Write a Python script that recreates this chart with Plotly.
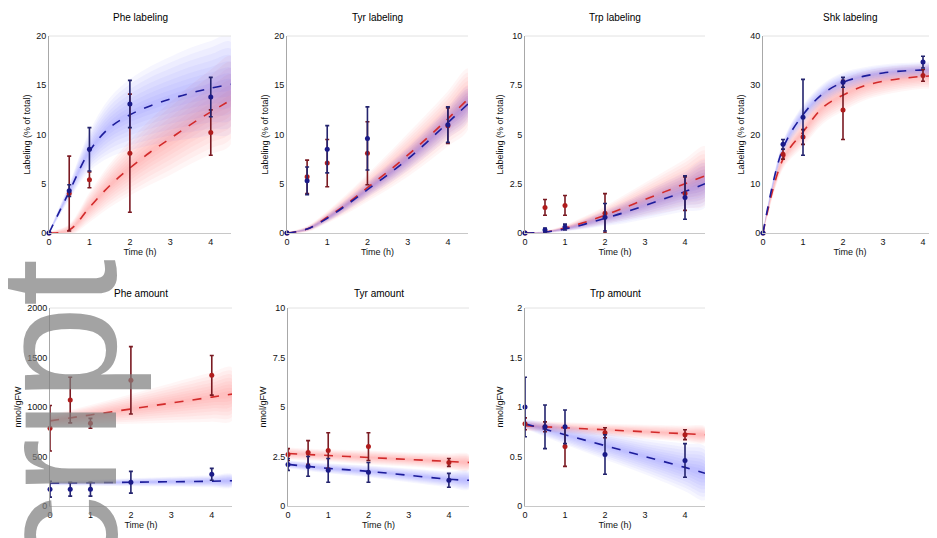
import plotly.graph_objects as go

# The page body has an 8px margin, so the figure is sized/positioned to compensate.
OFF = 8
W, H = 937 - OFF, 538 - OFF

# ---------------- data ----------------
T_OBS = [0, 0.5, 1, 2, 4]
T_FIT = [0, 0.5, 1, 1.5, 2, 2.5, 3, 3.5, 4, 4.5]
T_FIT_AMT = [0, 1, 2, 3, 4, 4.5]

# Phe labeling (%)
PHE_LAB_RED = [0, 4.0, 5.4, 8.1, 10.2]
PHE_LAB_RED_ERR = [0, 3.8, 0.8, 6.0, 2.3]
PHE_LAB_BLUE = [0, 4.3, 8.5, 13.1, 13.8]
PHE_LAB_BLUE_ERR = [0, 0.6, 2.2, 2.4, 2.0]
PHE_LAB_RED_FIT = [0, 0.3, 2.6, 4.8, 6.6, 8.2, 9.6, 11.0, 12.3, 13.5]
PHE_LAB_RED_BAND = [0, 0.6, 1.5, 2.2, 2.8, 3.3, 3.7, 4.0, 4.3, 4.5]
PHE_LAB_BLUE_FIT = [0, 4.2, 8.3, 10.7, 12.0, 12.9, 13.6, 14.2, 14.7, 15.1]
PHE_LAB_BLUE_BAND = [0, 0.8, 2.0, 3.0, 3.6, 4.0, 4.3, 4.6, 4.8, 5.0]

# Tyr labeling (%)
TYR_LAB_RED = [0, 5.7, 7.1, 8.1, 10.9]
TYR_LAB_RED_ERR = [0, 1.7, 2.4, 3.2, 1.8]
TYR_LAB_BLUE = [0, 5.3, 8.5, 9.6, 11.0]
TYR_LAB_BLUE_ERR = [0, 1.4, 2.4, 3.2, 1.8]
TYR_LAB_RED_FIT = [0, 0.4, 1.6, 3.0, 4.6, 6.2, 7.9, 9.7, 11.6, 13.6]
TYR_LAB_RED_BAND = [0, 0.3, 0.6, 1.0, 1.4, 1.8, 2.2, 2.5, 2.8, 3.1]
TYR_LAB_BLUE_FIT = [0, 0.4, 1.5, 2.9, 4.4, 5.9, 7.5, 9.3, 11.2, 13.1]
TYR_LAB_BLUE_BAND = [0, 0.2, 0.4, 0.6, 0.8, 1.0, 1.2, 1.4, 1.6, 1.8]

# Trp labeling (%)
TRP_LAB_RED = [0, 1.3, 1.4, 1.0, 2.0]
TRP_LAB_RED_ERR = [0, 0.4, 0.5, 1.0, 0.85]
TRP_LAB_BLUE = [0, 0.15, 0.3, 0.8, 1.8]
TRP_LAB_BLUE_ERR = [0, 0.1, 0.15, 0.7, 1.1]
TRP_LAB_RED_FIT = [0, 0.05, 0.25, 0.55, 0.9, 1.3, 1.7, 2.1, 2.5, 2.9]
TRP_LAB_RED_BAND = [0, 0.05, 0.15, 0.3, 0.45, 0.65, 0.85, 1.05, 1.25, 1.5]
TRP_LAB_BLUE_FIT = [0, 0.05, 0.2, 0.45, 0.75, 1.05, 1.4, 1.75, 2.1, 2.5]
TRP_LAB_BLUE_BAND = [0, 0.05, 0.12, 0.25, 0.4, 0.55, 0.7, 0.85, 1.0, 1.2]

# Shk labeling (%)
SHK_LAB_RED = [0, 16.0, 19.5, 25.0, 32.0]
SHK_LAB_RED_ERR = [0, 1.0, 1.5, 6.0, 1.2]
SHK_LAB_BLUE = [0, 18.0, 23.5, 30.6, 34.7]
SHK_LAB_BLUE_ERR = [0, 1.0, 7.7, 1.0, 1.2]
SHK_LAB_RED_FIT = [0, 15.0, 20.5, 25.5, 28.0, 29.8, 30.8, 31.4, 31.8, 32.0]
SHK_LAB_RED_BAND = [0, 2.0, 3.0, 3.3, 3.3, 3.0, 2.8, 2.6, 2.5, 2.5]
SHK_LAB_BLUE_FIT = [0, 17.2, 24.0, 28.3, 30.6, 31.8, 32.5, 32.9, 33.1, 33.2]
SHK_LAB_BLUE_BAND = [0, 1.5, 2.0, 2.0, 2.0, 1.8, 1.7, 1.6, 1.6, 1.6]

# Phe amount (nmol/gFW)
PHE_AMT_RED = [785, 1070, 835, 1270, 1320]
PHE_AMT_RED_ERR = [230, 230, 50, 340, 200]
PHE_AMT_BLUE = [170, 170, 170, 240, 320]
PHE_AMT_BLUE_ERR = [80, 70, 70, 110, 60]
PHE_AMT_RED_FIT = [860, 920, 980, 1040, 1100, 1130]
PHE_AMT_RED_BAND = [60, 100, 150, 200, 250, 270]
PHE_AMT_BLUE_FIT = [230, 235, 240, 245, 250, 255]
PHE_AMT_BLUE_BAND = [20, 30, 40, 50, 60, 65]

# Tyr amount (nmol/gFW)
TYR_AMT_RED = [2.6, 2.7, 2.8, 3.0, 2.2]
TYR_AMT_RED_ERR = [0.3, 0.6, 0.9, 0.7, 0.2]
TYR_AMT_BLUE = [2.1, 2.0, 1.8, 1.7, 1.3]
TYR_AMT_BLUE_ERR = [0.3, 0.5, 0.6, 0.5, 0.35]
TYR_AMT_RED_FIT = [2.65, 2.55, 2.45, 2.35, 2.25, 2.2]
TYR_AMT_RED_BAND = [0.3, 0.3, 0.35, 0.35, 0.4, 0.4]
TYR_AMT_BLUE_FIT = [2.1, 1.9, 1.75, 1.55, 1.35, 1.3]
TYR_AMT_BLUE_BAND = [0.2, 0.25, 0.3, 0.35, 0.4, 0.45]

# Trp amount (nmol/gFW)
TRP_AMT_RED = [0.83, 0.8, 0.6, 0.74, 0.72]
TRP_AMT_RED_ERR = [0.06, 0.05, 0.2, 0.05, 0.05]
TRP_AMT_BLUE = [1.0, 0.8, 0.8, 0.52, 0.46]
TRP_AMT_BLUE_ERR = [0.3, 0.22, 0.17, 0.2, 0.17]
TRP_AMT_RED_FIT = [0.81, 0.79, 0.77, 0.75, 0.73, 0.72]
TRP_AMT_RED_BAND = [0.05, 0.055, 0.06, 0.07, 0.08, 0.08]
TRP_AMT_BLUE_FIT = [0.83, 0.72, 0.61, 0.5, 0.39, 0.33]
TRP_AMT_BLUE_BAND = [0.05, 0.1, 0.14, 0.18, 0.24, 0.27]

TITLES = ["Phe labeling", "Tyr labeling", "Trp labeling", "Shk labeling",
          "Phe amount", "Tyr amount", "Trp amount"]
Y_TITLE_LAB = "Labeling (% of total)"
Y_TITLE_AMT = "nmol/gFW"
X_TITLE = "Time (h)"
X_TICKS = [0, 1, 2, 3, 4]
Y_TICKS = [
    [0, 5, 10, 15, 20],
    [0, 5, 10, 15, 20],
    [0, 2.5, 5, 7.5, 10],
    [0, 10, 20, 30, 40],
    [0, 500, 1000, 1500, 2000],
    [0, 2.5, 5, 7.5, 10],
    [0, 0.5, 1, 1.5, 2],
]

PANELS = [
    (T_FIT, PHE_LAB_RED, PHE_LAB_RED_ERR, PHE_LAB_BLUE, PHE_LAB_BLUE_ERR,
     PHE_LAB_RED_FIT, PHE_LAB_RED_BAND, PHE_LAB_BLUE_FIT, PHE_LAB_BLUE_BAND),
    (T_FIT, TYR_LAB_RED, TYR_LAB_RED_ERR, TYR_LAB_BLUE, TYR_LAB_BLUE_ERR,
     TYR_LAB_RED_FIT, TYR_LAB_RED_BAND, TYR_LAB_BLUE_FIT, TYR_LAB_BLUE_BAND),
    (T_FIT, TRP_LAB_RED, TRP_LAB_RED_ERR, TRP_LAB_BLUE, TRP_LAB_BLUE_ERR,
     TRP_LAB_RED_FIT, TRP_LAB_RED_BAND, TRP_LAB_BLUE_FIT, TRP_LAB_BLUE_BAND),
    (T_FIT, SHK_LAB_RED, SHK_LAB_RED_ERR, SHK_LAB_BLUE, SHK_LAB_BLUE_ERR,
     SHK_LAB_RED_FIT, SHK_LAB_RED_BAND, SHK_LAB_BLUE_FIT, SHK_LAB_BLUE_BAND),
    (T_FIT_AMT, PHE_AMT_RED, PHE_AMT_RED_ERR, PHE_AMT_BLUE, PHE_AMT_BLUE_ERR,
     PHE_AMT_RED_FIT, PHE_AMT_RED_BAND, PHE_AMT_BLUE_FIT, PHE_AMT_BLUE_BAND),
    (T_FIT_AMT, TYR_AMT_RED, TYR_AMT_RED_ERR, TYR_AMT_BLUE, TYR_AMT_BLUE_ERR,
     TYR_AMT_RED_FIT, TYR_AMT_RED_BAND, TYR_AMT_BLUE_FIT, TYR_AMT_BLUE_BAND),
    (T_FIT_AMT, TRP_AMT_RED, TRP_AMT_RED_ERR, TRP_AMT_BLUE, TRP_AMT_BLUE_ERR,
     TRP_AMT_RED_FIT, TRP_AMT_RED_BAND, TRP_AMT_BLUE_FIT, TRP_AMT_BLUE_BAND),
]

# ---------------- layout geometry (screen pixels) ----------------
X_DOM_PX = [(49, 231), (287, 468), (525, 705), (763, 937),
            (50, 232), (288, 469), (525, 705)]
TOP_Y_PX = (36, 233)
BOT_Y_PX = (308, 506)
X_RANGES = [[0, 4.5], [0, 4.5], [0, 4.5], [0, 4.35], [0, 4.5], [0, 4.5], [0, 4.5]]

RED_LINE = "#d22a2a"
BLUE_LINE = "#1c1c9a"
RED_MARK = "#b01c1c"
BLUE_MARK = "#1a1a88"
RED_ERRC = "#7a1a22"
BLUE_ERRC = "#24246e"
RED_FILL = "rgba(255,70,70,0.05)"
BLUE_FILL = "rgba(70,70,255,0.05)"
LAYERS = [1.0, 0.86, 0.72, 0.58, 0.45, 0.33, 0.21, 0.1]
FONT = "Liberation Sans, Arial, sans-serif"


def px_x(v):
    return (v - OFF) / W


def px_y(v):
    return 1 - (v - OFF) / H


fig = go.Figure()
layout = dict(
    width=W, height=H, margin=dict(l=0, r=0, t=0, b=0),
    paper_bgcolor="white", plot_bgcolor="white", showlegend=False,
    font=dict(family=FONT, size=9, color="#111"),
    annotations=[], shapes=[],
)


def add_band(t, fit, band, fill, xa, ya):
    for f in LAYERS:
        up = [c + f * b for c, b in zip(fit, band)]
        lo = [c - f * b for c, b in zip(fit, band)]
        fig.add_trace(go.Scatter(
            x=list(t) + list(t)[::-1], y=up + lo[::-1], fill="toself",
            fillcolor=fill, line=dict(width=0, shape="spline"), mode="lines",
            hoverinfo="skip", xaxis=xa, yaxis=ya))


for i, (tf, r, re, b, be, rf, rb, bf, bb) in enumerate(PANELS):
    n = i + 1
    xa = "x" if n == 1 else f"x{n}"
    ya = "y" if n == 1 else f"y{n}"
    xk = "xaxis" if n == 1 else f"xaxis{n}"
    yk = "yaxis" if n == 1 else f"yaxis{n}"
    top = i < 4
    ypx = TOP_Y_PX if top else BOT_Y_PX
    x0, x1 = X_DOM_PX[i]

    add_band(tf, rf, rb, RED_FILL, xa, ya)
    add_band(tf, bf, bb, BLUE_FILL, xa, ya)
    fig.add_trace(go.Scatter(x=tf, y=rf, mode="lines",
                             line=dict(color=RED_LINE, width=1.6, dash="dash", shape="spline"),
                             xaxis=xa, yaxis=ya))
    fig.add_trace(go.Scatter(x=tf, y=bf, mode="lines",
                             line=dict(color=BLUE_LINE, width=1.6, dash="dash", shape="spline"),
                             xaxis=xa, yaxis=ya))
    fig.add_trace(go.Scatter(x=T_OBS, y=r, mode="markers", cliponaxis=False,
                             marker=dict(color=RED_MARK, size=5),
                             error_y=dict(type="data", array=re, color=RED_ERRC,
                                          thickness=1.6, width=2),
                             xaxis=xa, yaxis=ya))
    fig.add_trace(go.Scatter(x=T_OBS, y=b, mode="markers", cliponaxis=False,
                             marker=dict(color=BLUE_MARK, size=5),
                             error_y=dict(type="data", array=be, color=BLUE_ERRC,
                                          thickness=1.6, width=2),
                             xaxis=xa, yaxis=ya))

    layout[xk] = dict(
        domain=[px_x(x0), min(1.0, px_x(x1))], anchor=ya, range=X_RANGES[i],
        tickvals=X_TICKS, ticks="", showgrid=False, zeroline=False,
        showline=True, linecolor="#c8c8c8", linewidth=1,
        tickfont=dict(size=9, color="#111"),
        title=dict(text=X_TITLE, font=dict(size=9, color="#111"), standoff=2),
        automargin=False,
    )
    yt = Y_TICKS[i]
    layout[yk] = dict(
        domain=[px_y(ypx[1]), px_y(ypx[0])], anchor=xa,
        range=[yt[0], yt[-1]], tickvals=yt, ticks="", showgrid=False,
        zeroline=False, showline=True, linecolor="#a8a8a8", linewidth=1,
        tickfont=dict(size=9, color="#111"),
        title=dict(text=Y_TITLE_LAB if top else Y_TITLE_AMT,
                   font=dict(size=9, color="#111"), standoff=4),
        automargin=False,
    )
    layout["shapes"].append(dict(type="line", xref=f"{xa} domain", yref=f"{ya} domain",
                                 x0=0, x1=1, y0=1, y1=1,
                                 line=dict(color="#e2e2e2", width=1)))
    ty = 18 if top else 293
    layout["annotations"].append(dict(
        text=TITLES[i], xref="paper", yref="paper",
        x=px_x((x0 + x1) / 2), y=px_y(ty), xanchor="center", yanchor="middle",
        showarrow=False, font=dict(size=10, color="#000", family=FONT)))

# watermark fragment at the left edge
layout["annotations"].append(dict(
    text="Manuscript", xref="paper", yref="paper", x=px_x(56), y=px_y(258),
    xanchor="center", yanchor="top", textangle=-90, showarrow=False,
    font=dict(size=170, color="rgba(128,128,128,0.72)", family="Liberation Sans, Arial")))

fig.update_layout(**layout)
fig.write_html("out.html")
